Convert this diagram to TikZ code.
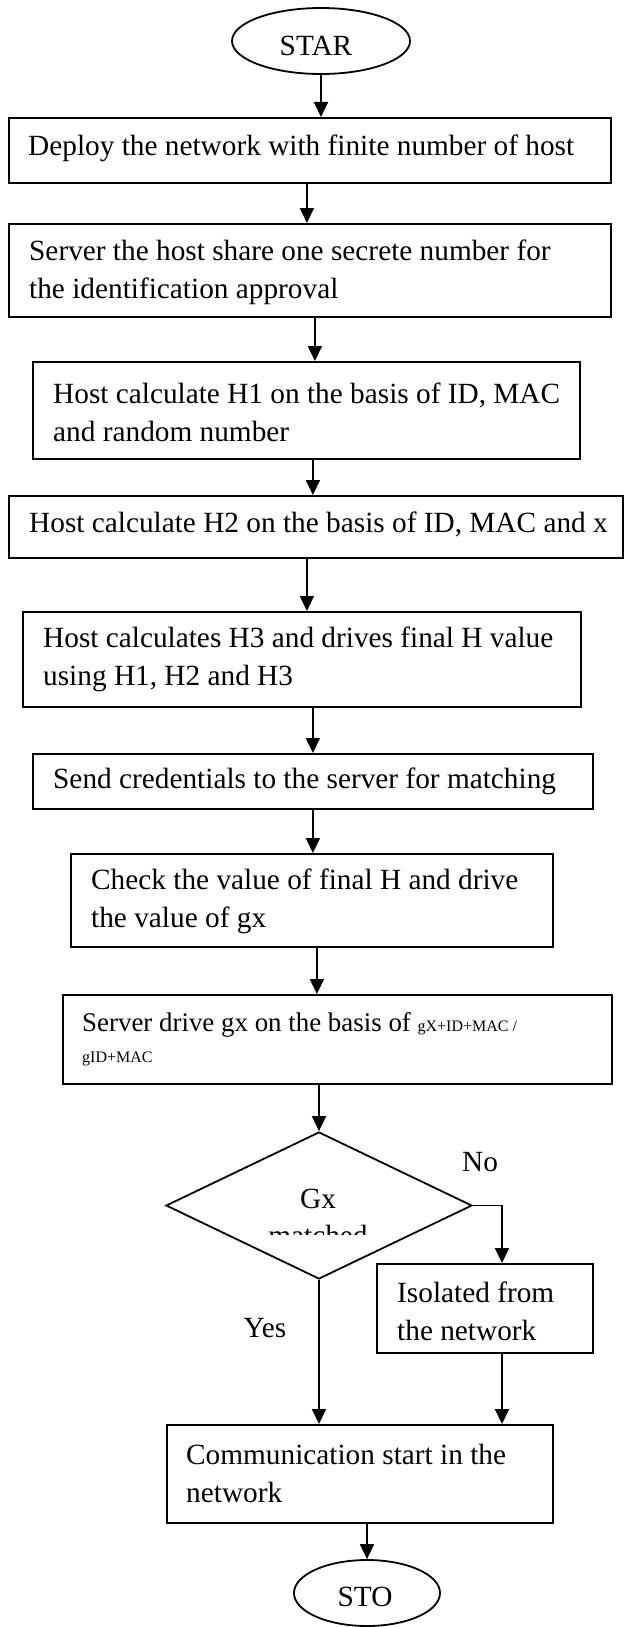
\documentclass[tikz,border=0pt]{standalone}
\usepackage{fontspec}
\setmainfont{Liberation Serif}
\usetikzlibrary{shapes.geometric,arrows.meta,calc}
\begin{document}
\begin{tikzpicture}[x=1pt,y=-1pt,
  box/.style={draw,line width=1.8pt,anchor=north west,inner sep=0pt},
  txt/.style={font=\fontsize{29.3}{38}\selectfont,inner sep=0pt,align=left,anchor=west},
  lbl/.style={font=\fontsize{29.3}{38}\selectfont,inner sep=0pt},
  term/.style={draw,ellipse,line width=1.8pt,inner sep=0pt},
  arr/.style={line width=1.8pt,-{Triangle[length=15pt,width=14pt]}}]
\useasboundingbox (0,0) rectangle (624,1627);
% terminals
\node[term,minimum width=178pt,minimum height=66pt] (star) at (321,41) {};
\node[lbl] (startxt) at (316,46) {STAR};
% boxes
\node[box,minimum width=602pt,minimum height=65pt] (b1) at (8,117) {};
\node[box,minimum width=602pt,minimum height=93pt] (b2) at (8,223) {};
\node[box,minimum width=547pt,minimum height=97pt] (b3) at (32,361) {};
\node[box,minimum width=614pt,minimum height=62pt] (b4) at (8,495) {};
\node[box,minimum width=558pt,minimum height=95pt] (b5) at (22,611) {};
\node[box,minimum width=560pt,minimum height=55pt] (b6) at (32,753) {};
\node[box,minimum width=482pt,minimum height=93pt] (b7) at (70,853) {};
\node[box,minimum width=549pt,minimum height=89pt] (b8) at (62,994) {};
\node[draw,diamond,line width=1.8pt,minimum width=306pt,minimum height=147pt,inner sep=0pt] (d) at (319,1205.5) {};
\node[box,minimum width=216pt,minimum height=89pt] (iso) at (376,1263) {};
\node[box,minimum width=386pt,minimum height=98pt] (comm) at (166,1424) {};
\node[term,minimum width=146pt,minimum height=66pt] (sto) at (367,1593) {};
\node[lbl] (stotxt) at (365,1597) {STO};
% texts
\node[txt] (t1) at ($(b1.west)+(20,-2)$) {Deploy the network with finite number of host};
\node[txt] (t2) at ($(b2.west)+(21,2)$) {Server the host share one secrete number for\\the identification approval};
\node[txt] (t3) at ($(b3.west)+(21,2)$) {Host calculate H1 on the basis of ID, MAC\\and random number};
\node[txt] (t4) at ($(b4.west)+(21,-2)$) {Host calculate H2 on the basis of ID, MAC and x};
\node[txt] (t5) at ($(b5.west)+(21,0)$) {Host calculates H3 and drives final H value\\using H1, H2 and H3};
\node[txt] (t6) at ($(b6.west)+(21,0)$) {Send credentials to the server for matching};
\node[txt] (t7) at ($(b7.west)+(21,1)$) {Check the value of final H and drive\\the value of gx};
\node[txt,font=\fontsize{26.9}{38}\selectfont] (t8) at ($(b8.west)+(20,0)$) {Server drive gx on the basis of {\fontsize{16}{19}\selectfont gX+ID+MAC /}\\[-7pt]{\fontsize{16}{19}\selectfont gID+MAC}};
\node[txt] (tiso) at ($(iso.west)+(21,3)$) {Isolated from\\the network};
\node[txt] (tcomm) at ($(comm.west)+(20,0)$) {Communication start in the\\network};
% diamond text (second line clipped)
\begin{scope}
\clip (166,1100) rectangle (472,1234);
\node[lbl,anchor=base] (gx) at (318,1208) {Gx};
\node[lbl,anchor=base] (matched) at (318,1245) {matched};
\end{scope}
\node[lbl] (no) at (480,1162) {No};
\node[lbl] (yes) at (265,1328) {Yes};
% connectors
\draw[arr] (star.south) -- (star.south |- b1.north);
\draw[arr] ([xshift=-3pt]b1.south) -- ([xshift=-3pt]b1.south |- b2.north);
\draw[arr] ([xshift=5pt]b2.south) -- ([xshift=5pt]b2.south |- b3.north);
\draw[arr] ([xshift=6.5pt]b3.south) -- ([xshift=6.5pt]b3.south |- b4.north);
\draw[arr] ([xshift=-9pt]b4.south) -- ([xshift=-9pt]b4.south |- b5.north);
\draw[arr] ([xshift=11pt]b5.south) -- ([xshift=11pt]b5.south |- b6.north);
\draw[arr] (b6.south) -- (b6.south |- b7.north);
\draw[arr] ([xshift=5pt]b7.south) -- ([xshift=5pt]b7.south |- b8.north);
\draw[arr] (d.north |- b8.south) -- (d.north);
\coordinate (nocorner) at (502,1205.5);
\draw[arr] (d.east) -- (nocorner) -- (nocorner |- iso.north);
\draw[arr] (d.south) -- (d.south |- comm.north);
\draw[arr] (nocorner |- iso.south) -- (nocorner |- comm.north);
\draw[arr] (sto.north |- comm.south) -- (sto.north);
\end{tikzpicture}
\end{document}
